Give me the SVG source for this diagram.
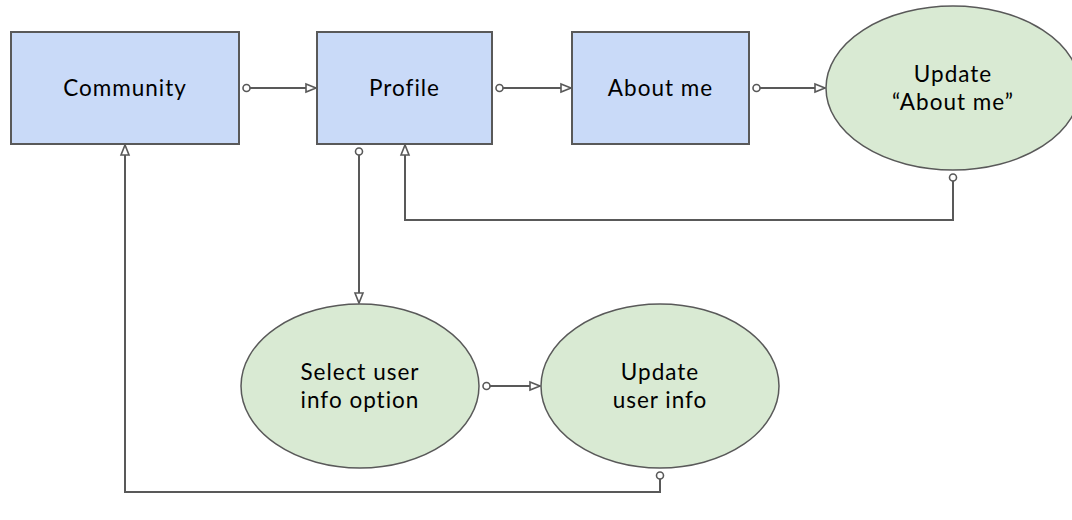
<svg xmlns="http://www.w3.org/2000/svg" width="1072" height="520" viewBox="0 0 1072 520">
<defs>
<style>
.box{fill:#c9daf8;stroke:#595959;stroke-width:2}
.oval{fill:#d9ead3;stroke:#595959;stroke-width:1.5}
.lbl{font-family:Lato,"Open Sans","Liberation Sans",sans-serif;font-size:22.5px;letter-spacing:1px;fill:#000;text-anchor:middle}
.conn{fill:none;stroke:#595959;stroke-width:2}
</style>
<marker id="dot" markerUnits="userSpaceOnUse" markerWidth="12" markerHeight="12" refX="6" refY="6" orient="auto" overflow="visible">
<circle cx="6" cy="6" r="3.5" fill="#fff" stroke="#595959" stroke-width="1.6"/>
</marker>
<marker id="tri" markerUnits="userSpaceOnUse" markerWidth="14" markerHeight="12" refX="12" refY="6" orient="auto" overflow="visible">
<path d="M2,2 L12,6 L2,10 Z" fill="#fff" stroke="#595959" stroke-width="1.6" stroke-linejoin="miter"/>
</marker>
</defs>
<g id="connectors">
<path class="conn" d="M246.5,88 H316" marker-start="url(#dot)" marker-end="url(#tri)"/>
<path class="conn" d="M499.5,88 H571" marker-start="url(#dot)" marker-end="url(#tri)"/>
<path class="conn" d="M756.5,88 H825" marker-start="url(#dot)" marker-end="url(#tri)"/>
<path class="conn" d="M359,151.5 V303" marker-start="url(#dot)" marker-end="url(#tri)"/>
<path class="conn" d="M486.5,386 H540" marker-start="url(#dot)" marker-end="url(#tri)"/>
<path class="conn" d="M953,177.5 V220 H405 V145" marker-start="url(#dot)" marker-end="url(#tri)"/>
<path class="conn" d="M660,475.5 V492 H125 V145" marker-start="url(#dot)" marker-end="url(#tri)"/>
</g>
<g id="community">
<rect class="box" x="11" y="32" width="228" height="112"/>
<text class="lbl" x="125" y="96">Community</text>
</g>
<g id="profile">
<rect class="box" x="317" y="32" width="175" height="112"/>
<text class="lbl" x="404.5" y="96">Profile</text>
</g>
<g id="about-me">
<rect class="box" x="572" y="32" width="177" height="112"/>
<text class="lbl" x="660.5" y="96">About me</text>
</g>
<g id="update-about-me">
<ellipse class="oval" cx="953" cy="88" rx="127" ry="82"/>
<text class="lbl" x="953" y="82">Update</text>
<text class="lbl" x="953" y="109.5">“About me”</text>
</g>
<g id="select-user-info">
<ellipse class="oval" cx="360" cy="386" rx="119" ry="82"/>
<text class="lbl" x="360" y="380">Select user</text>
<text class="lbl" x="360" y="407.5">info option</text>
</g>
<g id="update-user-info">
<ellipse class="oval" cx="660" cy="386" rx="119" ry="82"/>
<text class="lbl" x="660" y="380">Update</text>
<text class="lbl" x="660" y="407.5">user info</text>
</g>
</svg>
